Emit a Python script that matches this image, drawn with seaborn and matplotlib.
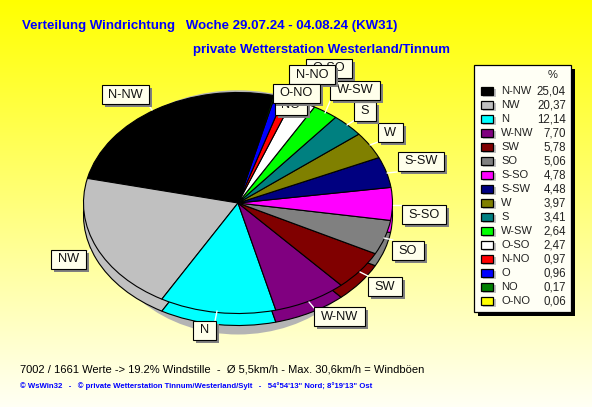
import numpy as np
import matplotlib
matplotlib.use("Agg")
import matplotlib.pyplot as plt
from matplotlib.patches import Rectangle, Ellipse
import seaborn as sns

directions = ["N-NW","NW","N","W-NW","SW","SO","S-SO","S-SW","W","S","W-SW","O-SO","N-NO","O","NO","O-NO"]
shares = [25.04,20.37,12.14,7.70,5.78,5.06,4.78,4.48,3.97,3.41,2.64,2.47,0.97,0.96,0.17,0.06]
share_labels = ["25,04","20,37","12,14","7,70","5,78","5,06","4,78","4,48","3,97","3,41","2,64","2,47","0,97","0,96","0,17","0,06"]
colours = ["#000000","#c0c0c0","#00ffff","#800080","#800000","#808080","#ff00ff","#000080",
           "#808000","#008080","#00ff00","#ffffff","#ff0000","#0000ff","#008000","#ffff00"]
title1 = "Verteilung Windrichtung   Woche 29.07.24 - 04.08.24 (KW31)"
title2 = "private Wetterstation Westerland/Tinnum"
foot1 = "7002 / 1661 Werte -> 19.2% Windstille  -  Ø 5,5km/h - Max. 30,6km/h = Windböen"
foot2 = "© WsWin32   -   © private Wetterstation Tinnum/Westerland/Sylt   -   54°54'13\" Nord; 8°19'13\" Ost"

# label layout: box centre, and the short white leader segment, in pixels
label_pos = [(125.5,94.5),(68.5,259.5),(204.5,330),(339.5,316.5),(385,286.5),(408,250.5),(424,214.5),(421,161.5),
             (390,132.5),(365,111.5),(355,90),(329,68),(312,74.5),(296,95),(291,105),(296.5,93.5)]
leader = [((152,110),(148,104)),((90,250),(85,254)),((217,311),(215,321)),((309,302),(314,308)),
          ((360,272),(368,276)),((384,238),(393,240)),((393,205),(402,205)),((387,173),(397,172)),
          ((370,145),(378,142)),((347,125),(355,120)),((325,113),(331,99)),None,None,None,None,None]

W, H = 592, 407
sns.set_theme(style="white")
plt.rcParams["font.family"] = ["Liberation Sans", "DejaVu Sans"]
fig = plt.figure(figsize=(W/100, H/100), dpi=100)

bg = fig.add_axes([0,0,1,1], zorder=0)
grad = np.ones((H,1,3)); grad[:,0,2] = np.linspace(0,0.96,H)
bg.imshow(grad, aspect="auto", extent=(0,W,H,0))
bg.set_xlim(0,W); bg.set_ylim(H,0); bg.axis("off")

cx, cy, rx, ry, depth = 238, 203, 154.5, 110.5, 12
pax = fig.add_axes([(cx-rx)/W, 1-(cy+ry)/H, 2*rx/W, 2*ry/H], zorder=1)
edge = dict(edgecolor="black", linewidth=0.8)
pax.pie(shares, colors=colours, startangle=77, counterclock=True, center=(0,-depth/ry),
        radius=1, wedgeprops=edge, normalize=True)
pax.pie(shares, colors=colours, startangle=77, counterclock=True, center=(0,0),
        radius=1, wedgeprops=edge, normalize=True)
for w in pax.patches:
    w.set_clip_on(False)
    w.set_zorder(3)
pax.add_patch(Ellipse((0.0,-0.19), 1.75, 2.0, facecolor="#b4b4b4", edgecolor="none", clip_on=False, zorder=1))
pax.add_patch(Ellipse((0,0.0), 1.9, 2.04, facecolor="#b4b4b4", edgecolor="none", clip_on=False, zorder=1))
pax.set_aspect("auto"); pax.set_xlim(-1,1); pax.set_ylim(-1,1); pax.axis("off")

ov = fig.add_axes([0,0,1,1], zorder=2)
ov.set_xlim(0,W); ov.set_ylim(H,0); ov.axis("off"); ov.patch.set_alpha(0)
renderer = fig.canvas.get_renderer()

for i, name in enumerate(directions):
    x, y = label_pos[i]
    if leader[i]:
        (x0, y0), (x1, y1) = leader[i]
        ov.plot([x0, x1], [y0, y1], color="white", lw=1, zorder=3)
    t = ov.text(x, y, name, ha="center", va="center", fontsize=9.2, color="#111111", zorder=4+3*i+2)
    bb = t.get_window_extent(renderer)
    bw, bh = bb.width+13, 19
    ov.add_patch(Rectangle((x-bw/2+3, y-bh/2+3), bw, bh, facecolor="#808080", edgecolor="none", zorder=4+3*i))
    ov.add_patch(Rectangle((x-bw/2, y-bh/2), bw, bh, facecolor="#ffffeb", edgecolor="black", lw=0.8, zorder=4+3*i+1))

ov.text(22, 26, title1, color="#0000ff", fontsize=9.55, fontweight="bold", va="center")
ov.text(193, 49.5, title2, color="#0000ff", fontsize=9.55, fontweight="bold", va="center")
ov.text(20, 369, foot1, color="black", fontsize=8, va="center")
ov.text(20, 386, foot2, color="#0000ff", fontsize=5.6, fontweight="bold", va="center")

# legend
ov.add_patch(Rectangle((478,69),97,247,facecolor="black",edgecolor="none",zorder=100))
ov.add_patch(Rectangle((474,65),97,247,facecolor="#fffff5",edgecolor="black",lw=0.9,zorder=101))
ov.text(553, 75, "%", ha="center", va="center", fontsize=8, color="#222222", zorder=102)
for i, name in enumerate(directions):
    y = 91 + 14*i
    ov.add_patch(Rectangle((483,y-2),13,8,facecolor="#c0c0c0",edgecolor="none",zorder=102))
    ov.add_patch(Rectangle((481,y-4),12,8,facecolor=colours[i],edgecolor="black",lw=0.9,zorder=103))
    ov.text(501, y, name, ha="left", va="center", fontsize=8, color="#222222", zorder=103)
    ov.text(566, y, share_labels[i], ha="right", va="center", fontsize=8.3, color="#222222", zorder=103)

fig.savefig("out.png", dpi=100)
